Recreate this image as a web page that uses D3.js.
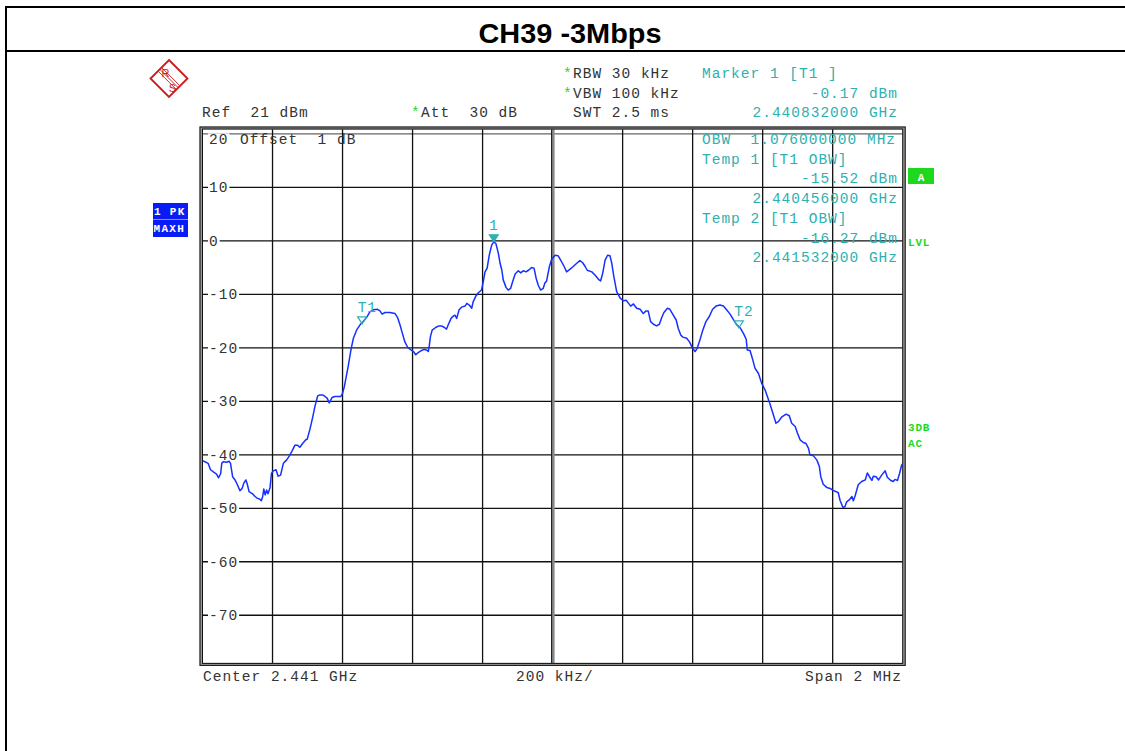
<!DOCTYPE html>
<html><head><meta charset="utf-8">
<script src="https://cdn.jsdelivr.net/npm/d3@7"></script>
<style>
html,body{margin:0;padding:0;background:#fff;}
svg{display:block;}
.mono{font-family:"Liberation Mono","Courier New",monospace;font-size:14.5px;letter-spacing:1px;}
</style></head>
<body>
<svg id="chart" width="1125" height="751"></svg>
<script>
// ---- data ----
const titleText = "CH39 -3Mbps";
const centerGHz = 2.441;
const spanKHz = [-1000, 1000];
const refRange = [-79, 21];
const freqTicksKHz = [-1000,-800,-600,-400,-200,0,200,400,600,800,1000];
const levelTicks = [20,10,0,-10,-20,-30,-40,-50,-60,-70];

const freqKHz = [-1000,-993,-984,-977,-967,-960,-954,-948,-945,-941,-931,-924,-920,-914,-907,-901,-893,-887,-882,-876,-872,-867,-857,-850,-844,-836,-832,-828,-825,-821,-817,-813,-807,-803,-798,-790,-784,-777,-769,-760,-752,-745,-736,-729,-722,-714,-705,-701,-693,-685,-679,-671,-665,-657,-650,-644,-638,-630,-622,-612,-605,-600,-595,-593,-584,-576,-569,-560,-550,-541,-531,-522,-512,-500,-493,-487,-479,-465,-450,-443,-436,-429,-422,-414,-405,-397,-391,-384,-374,-367,-360,-355,-352,-349,-344,-334,-325,-317,-309,-303,-298,-290,-284,-279,-274,-267,-260,-250,-245,-238,-231,-227,-219,-212,-203,-198,-193,-187,-181,-174,-168,-162,-155,-150,-145,-141,-133,-127,-120,-114,-107,-98,-91,-84,-76,-69,-60,-53,-47,-41,-34,-27,-22,-17,-14,-9,-3,7,16,23,33,40,50,59,69,78,86,93,99,112,121,131,137,143,150,157,164,169,175,183,193,202,210,216,223,231,240,250,259,267,273,280,288,297,305,312,318,328,335,343,353,359,366,372,383,391,400,407,413,421,429,438,448,457,467,478,488,497,507,516,526,535,545,553,556,564,572,578,588,597,607,613,621,629,638,645,655,667,676,683,693,699,707,716,724,731,735,745,755,762,766,773,783,793,800,810,816,821,829,835,840,848,855,859,864,873,883,893,899,905,912,916,924,931,940,950,956,966,973,978,985,991,997,1000];

const levelDbm = [-41.1,-41.3,-41.6,-42.8,-43.3,-43.6,-44.3,-43.5,-41.6,-41.3,-41.4,-41.2,-41.6,-44.1,-44.7,-45.5,-46.7,-46.3,-45.3,-44.7,-45.5,-46.9,-47.3,-47.8,-48.1,-48.3,-48.6,-47.8,-46.4,-47.5,-46.6,-47.3,-46.1,-43.5,-43.0,-42.8,-44.0,-43.8,-41.6,-41.0,-40.2,-39.4,-38.2,-38.2,-38.6,-37.9,-37.2,-37.1,-35.2,-32.9,-31.0,-29.0,-28.8,-28.8,-29.1,-29.4,-30.3,-29.3,-29.1,-29.1,-29.1,-28.5,-27.3,-26.6,-23.5,-20.4,-18.2,-16.7,-15.7,-15.1,-14.3,-13.3,-12.9,-12.8,-13.1,-13.7,-13.4,-13.4,-13.6,-14.3,-15.7,-17.3,-18.9,-19.9,-20.4,-20.7,-21.3,-20.9,-20.5,-20.3,-20.4,-20.7,-19.5,-17.9,-16.7,-16.2,-15.9,-15.9,-16.2,-16.5,-15.7,-14.5,-14.1,-13.9,-14.5,-12.9,-12.4,-12.2,-11.7,-12.0,-12.6,-11.4,-10.3,-9.7,-9.2,-7.6,-5.8,-5.1,-2.7,-0.8,-0.2,-0.5,-2.3,-4.2,-5.5,-7.3,-8.7,-9.2,-8.9,-7.6,-6.2,-5.6,-6.0,-5.6,-5.8,-5.5,-5.0,-5.1,-7.0,-8.3,-9.2,-8.9,-7.9,-7.5,-6.4,-4.8,-3.5,-2.7,-2.8,-3.6,-4.8,-5.8,-5.3,-4.8,-4.2,-3.7,-4.1,-4.8,-5.5,-5.8,-6.4,-7.2,-7.5,-6.1,-3.6,-2.7,-2.8,-4.2,-6.7,-9.5,-10.7,-11.2,-11.1,-11.6,-12.2,-11.8,-12.6,-12.8,-13.6,-13.1,-13.1,-15.1,-15.6,-15.9,-15.6,-14.3,-13.4,-12.6,-12.8,-13.7,-14.8,-16.4,-17.6,-18.0,-18.2,-18.9,-20.1,-20.7,-20.1,-18.5,-16.7,-15.1,-14.1,-12.8,-12.2,-12.0,-12.2,-12.9,-13.7,-14.7,-15.7,-16.2,-17.3,-18.4,-20.4,-20.5,-22.3,-23.8,-24.8,-26.6,-27.9,-29.0,-30.5,-32.2,-34.1,-33.8,-32.9,-32.4,-32.7,-34.1,-34.7,-35.9,-37.2,-37.7,-37.9,-38.8,-40.0,-40.2,-41.0,-42.2,-44.1,-45.5,-46.1,-46.3,-46.6,-46.9,-47.1,-48.5,-49.8,-49.7,-48.8,-48.4,-47.8,-48.6,-47.7,-45.6,-45.0,-44.7,-43.4,-44.1,-44.8,-44.0,-44.1,-44.7,-43.8,-43.0,-44.2,-44.8,-45.0,-44.6,-44.8,-43.5,-41.9,-41.7];

const markerNames = ["1","T1","T2"];
const markerFreqKHz = [-168, -544, 532];
const markerLevels = [-0.17, -15.52, -16.27];
const markerFilled = [true, false, false];

const headerLeft = ["Ref  21 dBm"];
const headerMid = [["*","Att  30 dB"]];
const headerSettings = [["*","RBW 30 kHz"],["*","VBW 100 kHz"],[" ","SWT 2.5 ms"]];
const markerInfo = ["Marker 1 [T1 ]","-0.17 dBm","2.440832000 GHz"];
const obwInfo = ["OBW  1.076000000 MHz","Temp 1 [T1 OBW]","-15.52 dBm","2.440456000 GHz","Temp 2 [T1 OBW]","-16.27 dBm","2.441532000 GHz"];
const bottomLabels = ["Center 2.441 GHz","200 kHz/","Span 2 MHz"];

// ---- drawing ----
const svg = d3.select("#chart");
const gray = "#333", teal = "#2eb0b0", green = "#1ed81e", blue = "#1530ff", red = "#cc1a1a";
const X0 = 202.5, X1 = 902.7, Y0 = 128.5, Y1 = 663.4;
const x = d3.scaleLinear().domain(spanKHz).range([X0, X1]);
const y = d3.scaleLinear().domain(refRange).range([Y1, Y0]);

svg.append("rect").attr("width",1125).attr("height",751).attr("fill","#fff");

// outer title frame
svg.append("path").attr("d","M6,751 V7 H1125 M6,51 H1125")
  .attr("fill","none").attr("stroke","#000").attr("stroke-width",2);
svg.append("text").attr("x",570).attr("y",43).attr("text-anchor","middle")
  .attr("font-family","Liberation Sans, Arial, sans-serif").attr("font-weight","bold")
  .attr("font-size",27).attr("textLength",183).attr("lengthAdjust","spacingAndGlyphs")
  .attr("fill","#000").text(titleText);

// R&S logo
const logo = svg.append("g").attr("transform","translate(169,78.5)");
logo.append("path").attr("d","M0,-18.5 L18.5,0 L0,18.5 L-18.5,0 Z").attr("fill","none").attr("stroke",red).attr("stroke-width",1.8);
[-1.8,0,1.8].forEach(o=>{
  logo.append("line").attr("x1",-9+o).attr("y1",-9-o).attr("x2",9+o).attr("y2",9-o)
   .attr("stroke",red).attr("stroke-width",0.9);
});
logo.append("text").attr("x",-3.5).attr("y",-1.5).attr("font-family","Liberation Sans, Arial").attr("font-size",11).attr("fill",red).attr("text-anchor","middle").text("R");
logo.append("text").attr("x",3.5).attr("y",13).attr("font-family","Liberation Sans, Arial").attr("font-size",11).attr("fill",red).attr("text-anchor","middle").text("S");

// header texts
const CW = 9.7;
svg.append("text").attr("class","mono").attr("x",202).attr("y",117).attr("fill",gray).attr("xml:space","preserve").text(headerLeft[0]);
headerMid.forEach(d=>{
  svg.append("text").attr("class","mono").attr("x",411).attr("y",117).attr("fill",green).text(d[0]);
  svg.append("text").attr("class","mono").attr("x",421).attr("y",117).attr("fill",gray).attr("xml:space","preserve").text(d[1]);
});
headerSettings.forEach((d,i)=>{
  const yy = 78 + i*19.5;
  svg.append("text").attr("class","mono").attr("x",563).attr("y",yy).attr("fill",green).text(d[0]);
  svg.append("text").attr("class","mono").attr("x",573).attr("y",yy).attr("fill",gray).attr("xml:space","preserve").text(d[1]);
});
markerInfo.forEach((t,i)=>{
  const yy = 78 + i*19.5;
  const xs = i===0 ? 702 : 898 - t.length*CW;
  svg.append("text").attr("class","mono").attr("x",xs).attr("y",yy).attr("fill",teal).attr("xml:space","preserve").text(t);
});

// grid
const grid = svg.append("g");
levelTicks.forEach(v=>{
  grid.append("line").attr("x1",X0).attr("x2",X1).attr("y1",y(v)).attr("y2",y(v))
    .attr("stroke", v===20 ? "#666" : "#111").attr("stroke-width",1.3);
});
freqTicksKHz.slice(1,-1).forEach(v=>{
  if (v===0) {
    grid.append("line").attr("x1",x(v)+0.5).attr("x2",x(v)+0.5).attr("y1",Y0).attr("y2",Y1).attr("stroke","#888").attr("stroke-width",3);
    grid.append("line").attr("x1",x(v)-1).attr("x2",x(v)-1).attr("y1",Y0).attr("y2",Y1).attr("stroke","#111").attr("stroke-width",1);
  } else {
    grid.append("line").attr("x1",x(v)).attr("x2",x(v)).attr("y1",Y0).attr("y2",Y1).attr("stroke","#111").attr("stroke-width",1.3);
  }
});
// frame
svg.append("rect").attr("x",X0-1.5).attr("y",Y0-0.5).attr("width",X1-X0+3).attr("height",Y1-Y0+1.5)
  .attr("fill","none").attr("stroke","#999").attr("stroke-width",3);
svg.append("rect").attr("x",X0).attr("y",Y0+0.5).attr("width",X1-X0).attr("height",Y1-Y0-0.5)
  .attr("fill","none").attr("stroke","#111").attr("stroke-width",1);
svg.append("rect").attr("x",X0-2.5).attr("y",Y0-1.5).attr("width",X1-X0+5).attr("height",Y1-Y0+3.5)
  .attr("fill","none").attr("stroke","#111").attr("stroke-width",1);

// level labels
levelTicks.forEach(v=>{
  const t = String(v);
  const w = t.length*CW;
  const yy = v===20 ? y(v)+10.5 : y(v)+5;
  svg.append("rect").attr("x",208).attr("y",yy-11).attr("width",w+2).attr("height",13).attr("fill","#fff");
  svg.append("text").attr("class","mono").attr("x",209).attr("y",yy).attr("fill",gray).text(t);
});
svg.append("text").attr("class","mono").attr("x",240).attr("y",144).attr("fill",gray).attr("xml:space","preserve").text("Offset  1 dB");

// OBW texts
obwInfo.forEach((t,i)=>{
  const yy = 144 + i*19.7;
  const left = (i===1 || i===4) || i===0;
  const xs = left ? 702 : 898 - t.length*CW;
  svg.append("text").attr("class","mono").attr("x",xs).attr("y",yy).attr("fill",teal).attr("xml:space","preserve").text(t);
});

// trace
const n = Math.min(freqKHz.length, levelDbm.length);
const pts = d3.range(n).map(i=>[freqKHz[i], levelDbm[i]]);
svg.append("clipPath").attr("id","clip").append("rect").attr("x",X0).attr("y",Y0).attr("width",X1-X0).attr("height",Y1-Y0);
svg.append("path").datum(pts).attr("clip-path","url(#clip)")
  .attr("fill","none").attr("stroke",blue).attr("stroke-width",1.5).attr("stroke-linejoin","round")
  .attr("d", d3.line().x(d=>x(d[0])).y(d=>y(d[1])));

// markers
markerNames.forEach((m,i)=>{
  const mx = x(markerFreqKHz[i]), my = y(markerLevels[i]);
  svg.append("path").attr("d",`M${mx-4.5},${my-7} L${mx+4.5},${my-7} L${mx},${my} Z`)
    .attr("fill", markerFilled[i] ? teal : "none").attr("stroke",teal).attr("stroke-width",1.2);
  svg.append("text").attr("class","mono").attr("x", markerFilled[i] ? mx : mx-4.5).attr("y",my-12)
    .attr("text-anchor", markerFilled[i] ? "middle":"start").attr("fill",teal).text(m);
});

// left blue box
svg.append("rect").attr("x",153).attr("y",203).attr("width",35).attr("height",16.5).attr("fill","#0a1cf5");
svg.append("rect").attr("x",153).attr("y",220).attr("width",35).attr("height",17).attr("fill","#0a1cf5");
svg.append("text").attr("x",154).attr("y",215).attr("fill","#fff").attr("font-family","Liberation Mono, monospace").attr("font-weight","bold").attr("font-size",11).attr("xml:space","preserve").attr("letter-spacing",1.3).text("1 PK");
svg.append("text").attr("x",153.5).attr("y",232).attr("fill","#fff").attr("font-family","Liberation Mono, monospace").attr("font-weight","bold").attr("font-size",11).attr("letter-spacing",1.3).text("MAXH");

// right side green
svg.append("rect").attr("x",908).attr("y",168).attr("width",26).attr("height",16).attr("fill",green);
svg.append("text").attr("x",921).attr("y",180.5).attr("text-anchor","middle").attr("fill","#fff").attr("font-family","Liberation Mono, monospace").attr("font-weight","bold").attr("font-size",11).text("A");
[["LVL",246],["3DB",431],["AC",447]].forEach(d=>{
  svg.append("text").attr("x",908).attr("y",d[1]).attr("fill",green).attr("font-family","Liberation Mono, monospace").attr("font-weight","bold").attr("font-size",11).attr("letter-spacing",0.8).text(d[0]);
});

// bottom labels
svg.append("text").attr("class","mono").attr("x",203).attr("y",681).attr("fill",gray).text(bottomLabels[0]);
svg.append("text").attr("class","mono").attr("x",516).attr("y",681).attr("fill",gray).text(bottomLabels[1]);
svg.append("text").attr("class","mono").attr("x",902 - bottomLabels[2].length*CW).attr("y",681).attr("fill",gray).text(bottomLabels[2]);
</script>
</body></html>
